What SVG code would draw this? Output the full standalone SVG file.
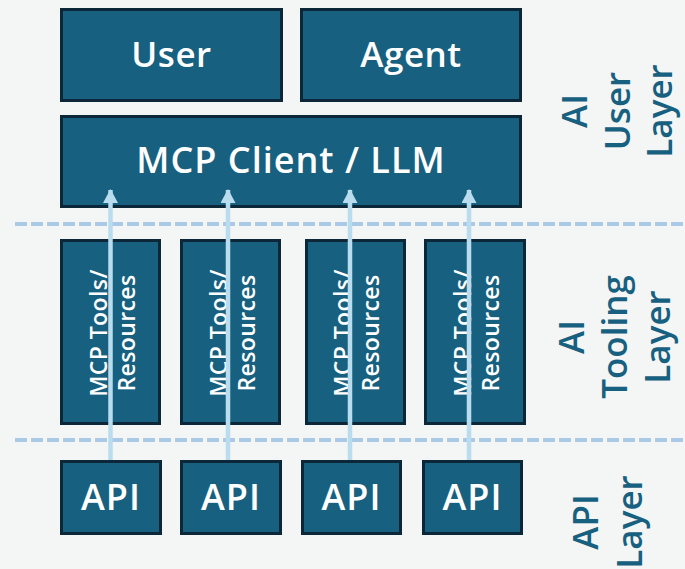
<svg xmlns="http://www.w3.org/2000/svg" width="685" height="569" viewBox="0 0 685 569">
  <style>
    .box { fill: #17607f; stroke: #0b2738; stroke-width: 3; }
    .t { font-family: "Open Sans", "Liberation Sans", sans-serif; fill: #ffffff; text-anchor: middle; font-weight: 600; }
    .big { font-size: 35px; letter-spacing: 0.5px; }
    .mid { font-size: 36px; letter-spacing: 1px; }
    .small { font-size: 23px; letter-spacing: 0.4px; }
    .lab { font-family: "Open Sans", "Liberation Sans", sans-serif; fill: #17607f; text-anchor: middle; font-size: 35px; font-weight: 600; }
    .dash { stroke: #a9c9e7; stroke-width: 4; stroke-dasharray: 12 4; fill: none; }
    .arr { stroke: #b9ddef; stroke-width: 4.5; fill: none; marker-end: url(#ah); }
  </style>
  <defs>
    <marker id="ah" markerUnits="userSpaceOnUse" markerWidth="14" markerHeight="15" refX="13" refY="7.5" orient="auto">
      <path d="M0,0 L14,7.5 L0,15 Z" fill="#b9ddef"/>
    </marker>
  </defs>
  <rect width="685" height="569" fill="#f4f5f5"/>

  <g id="layer-lines">
    <line class="dash" x1="15" y1="224" x2="685" y2="224"/>
    <line class="dash" x1="15" y1="440" x2="685" y2="440"/>
  </g>

  <g id="layer-labels">
    <text class="lab" transform="translate(0,111) rotate(-90)"><tspan x="0" y="587">AI</tspan><tspan x="0" y="630">User</tspan><tspan x="0" y="672">Layer</tspan></text>
    <text class="lab" transform="translate(0,337) rotate(-90)"><tspan x="0" y="584">AI</tspan><tspan x="0" y="627">Tooling</tspan><tspan x="0" y="670">Layer</tspan></text>
    <text class="lab" transform="translate(0,522) rotate(-90)"><tspan x="0" y="598">API</tspan><tspan x="0" y="642">Layer</tspan></text>
  </g>

  <g id="user">
    <rect class="box" x="61.5" y="9.5" width="220" height="91"/>
    <text class="t big" x="171.5" y="67">User</text>
  </g>
  <g id="agent">
    <rect class="box" x="301.5" y="9.5" width="219" height="91"/>
    <text class="t big" x="411" y="67">Agent</text>
  </g>
  <g id="mcp-client">
    <rect class="box" x="61.5" y="116.5" width="459" height="90"/>
    <text class="t mid" x="291" y="173">MCP Client / LLM</text>
  </g>

  <g id="tools-1">
    <rect class="box" x="61.5" y="240.5" width="98" height="183"/>
    <text class="t small" transform="translate(0,333) rotate(-90)"><tspan x="0" y="106.5">MCP Tools/</tspan><tspan x="0" y="134.5">Resources</tspan></text>
  </g>
  <g id="tools-2">
    <rect class="box" x="181.5" y="240.5" width="98" height="183"/>
    <text class="t small" transform="translate(0,333) rotate(-90)"><tspan x="0" y="226.5">MCP Tools/</tspan><tspan x="0" y="254.5">Resources</tspan></text>
  </g>
  <g id="tools-3">
    <rect class="box" x="306.5" y="240.5" width="98" height="183"/>
    <text class="t small" transform="translate(0,333) rotate(-90)"><tspan x="0" y="350.5">MCP Tools/</tspan><tspan x="0" y="378.5">Resources</tspan></text>
  </g>
  <g id="tools-4">
    <rect class="box" x="425.5" y="240.5" width="99" height="183"/>
    <text class="t small" transform="translate(0,333) rotate(-90)"><tspan x="0" y="470.5">MCP Tools/</tspan><tspan x="0" y="498.5">Resources</tspan></text>
  </g>

  <g id="api-1">
    <rect class="box" x="61.5" y="461.5" width="99" height="72"/>
    <text class="t mid" x="111" y="510">API</text>
  </g>
  <g id="api-2">
    <rect class="box" x="181.5" y="461.5" width="99" height="72"/>
    <text class="t mid" x="231" y="510">API</text>
  </g>
  <g id="api-3">
    <rect class="box" x="302.5" y="461.5" width="98" height="72"/>
    <text class="t mid" x="351.5" y="510">API</text>
  </g>
  <g id="api-4">
    <rect class="box" x="423.5" y="461.5" width="98" height="72"/>
    <text class="t mid" x="472.5" y="510">API</text>
  </g>

  <g id="connectors">
    <line class="arr" x1="110.5" y1="460" x2="110.5" y2="190"/>
    <line class="arr" x1="228" y1="460" x2="228" y2="190"/>
    <line class="arr" x1="350" y1="460" x2="350" y2="190"/>
    <line class="arr" x1="469" y1="460" x2="469" y2="190"/>
  </g>
</svg>
